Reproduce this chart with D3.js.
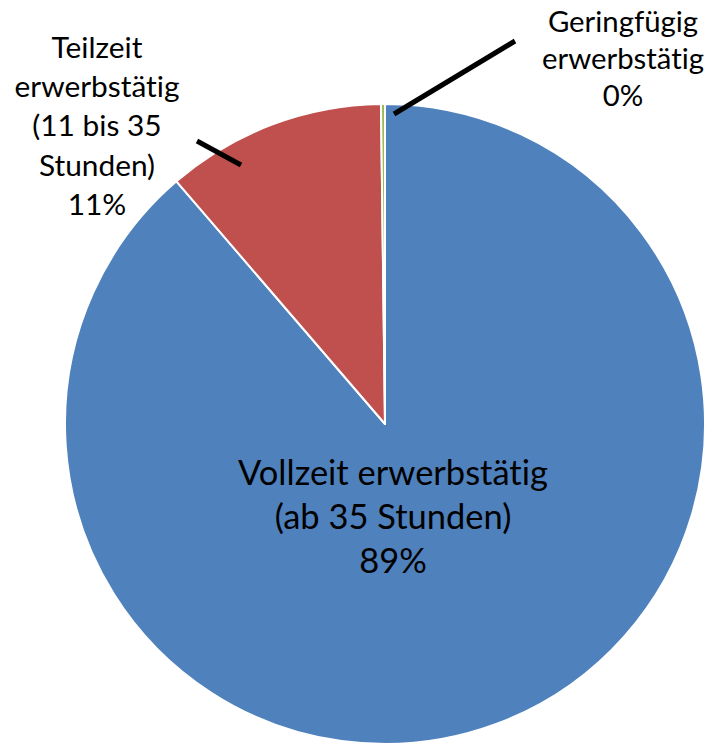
<!DOCTYPE html>
<html><head><meta charset="utf-8">
<script src="https://cdn.jsdelivr.net/npm/d3@7"></script>
<style>html,body{margin:0;padding:0;background:#fff;} text{font-variant-ligatures:none;font-feature-settings:"liga" 0;}</style>
</head><body>
<svg id="c" width="710" height="750"></svg>
<script>
// Data
const categories = ["Vollzeit erwerbstätig (ab 35 Stunden)", "Teilzeit erwerbstätig (11 bis 35 Stunden)", "Geringfügig erwerbstätig"];
const values = [88.7, 11.1, 0.2];
const labelLines = [
  ["Vollzeit erwerbstätig", "(ab 35 Stunden)"],
  ["Teilzeit", "erwerbstätig", "(11 bis 35", "Stunden)"],
  ["Geringfügig", "erwerbstätig"]
];
const colors = ["#4F81BD", "#C0504D", "#9BBB59"];

// Layout
const W = 710, H = 750, cx = 385, cy = 424, R = 320;
const FONT = "Lato, 'Open Sans', sans-serif";
const labelLayout = [
  {x: 393, y: 485, lh: 44, fitWidth: 188, leader: null},
  {x: 97, y: 58, lh: 39.2, fitWidth: 165, leader: [[197,141],[241,165]]},
  {x: 623, y: 32, lh: 37, fitWidth: 162, leader: [[394,114],[515,41]]}
];

const svg = d3.select("#c");
const g = svg.append("g").attr("transform", `translate(${cx},${cy})`);
const pie = d3.pie().sort(null).value(d => d)(values);
const arc = d3.arc().innerRadius(0).outerRadius(R);

g.selectAll("path").data(pie).enter().append("path")
  .attr("d", arc)
  .attr("fill", (d,i) => colors[i])
  .attr("stroke", "#fff").attr("stroke-width", 2).attr("stroke-linejoin","round");

const total = d3.sum(values);

// leaders
labelLayout.forEach(l => {
  if (l.leader) {
    svg.append("line")
      .attr("x1", l.leader[0][0]).attr("y1", l.leader[0][1])
      .attr("x2", l.leader[1][0]).attr("y2", l.leader[1][1])
      .attr("stroke", "#000").attr("stroke-width", 5);
  }
});

// fit font size: measure "erwerbstätig"
const probe = svg.append("text").attr("font-family", FONT).attr("font-size", 100).text("erwerbstätig");
const w100 = probe.node().getComputedTextLength();
probe.remove();

labelLines.forEach((lines, i) => {
  const l = labelLayout[i];
  let fs;
  if (i === 0) {
    const p = svg.append("text").attr("font-family", FONT).attr("font-size", 100).text("Vollzeit erwerbstätig");
    fs = 100 * 310 / p.node().getComputedTextLength(); p.remove();
  } else {
    fs = 100 * l.fitWidth / w100;
  }
  const all = lines.concat([Math.round(values[i] / total * 100) + "%"]);
  const t = svg.append("text").attr("font-family", FONT).attr("font-size", fs)
    .attr("fill", "#000").attr("text-anchor", "middle");
  all.forEach((s, k) => {
    t.append("tspan").attr("x", l.x).attr("y", l.y + k * l.lh).text(s);
  });
});
</script>
</body></html>
